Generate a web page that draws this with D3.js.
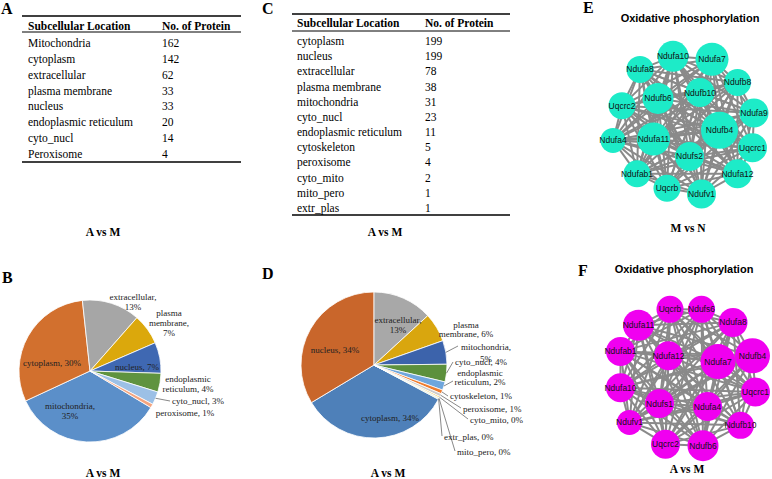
<!DOCTYPE html>
<html>
<head>
<meta charset="utf-8">
<script src="https://cdn.jsdelivr.net/npm/d3@7"></script>
<style>
  body { margin: 0; background: #fff; }
  text { font-family: "Liberation Serif", "Times New Roman", serif; }
  .sans { font-family: "Liberation Sans", Arial, sans-serif; }
</style>
</head>
<body>
<div id="fig"></div>
<script>
const width = 772
const height = 479

// ---- data: table A / pie B
const locA = ["Mitochondria", "cytoplasm", "extracellular", "plasma membrane", "nucleus", "endoplasmic reticulum", "cyto_nucl", "Peroxisome"]
const countA = [162, 142, 62, 33, 33, 20, 14, 4]
const pieNamesB = ["mitochondria", "cytoplasm", "extracellular", "plasma membrane", "nucleus", "endoplasmic reticulum", "cyto_nucl", "peroxisome"]
const pctB = [35, 30, 13, 7, 7, 4, 3, 1]

// ---- data: table C / pie D
const locC = ["cytoplasm", "nucleus", "extracellular", "plasma membrane", "mitochondria", "cyto_nucl", "endoplasmic reticulum", "cytoskeleton", "peroxisome", "cyto_mito", "mito_pero", "extr_plas"]
const countC = [199, 199, 78, 38, 31, 23, 11, 5, 4, 2, 1, 1]
const pctD = [34, 34, 13, 6, 5, 4, 2, 1, 1, 0, 0, 0]

// ---- data: networks (layout units 0-100, size = node weight)
const nodesE = [
  ["Ndufa10", 42, 3, 14], ["Ndufa7", 68, 5, 15], ["Ndufa8", 20, 12, 12], ["Ndufb8", 85, 21, 12],
  ["Ndufb10", 60, 28, 13], ["Ndufb6", 32, 32, 14], ["Uqcrc2", 8, 37, 12], ["Ndufa9", 96, 42, 13],
  ["Ndufb4", 73, 54, 17], ["Ndufa11", 29, 60, 15], ["Ndufa4", 2, 61, 11], ["Uqcrc1", 95, 66, 13],
  ["Ndufs2", 53, 72, 13], ["Ndufab1", 18, 84, 12], ["Ndufa12", 85, 84, 13], ["Uqcrb", 38, 94, 12],
  ["Ndufv1", 61, 98, 13]
]
const nodesF = [
  ["Uqcrb", 40, 3, 12], ["Ndufs6", 61, 3, 12], ["Ndufa8", 82, 12, 13], ["Ndufa11", 19, 14, 14],
  ["Ndufab1", 7, 32, 13], ["Ndufb4", 95, 35, 16], ["Ndufa12", 39, 35, 13], ["Ndufa7", 72, 39, 16],
  ["Ndufa10", 7, 57, 13], ["Uqcrc1", 97, 60, 13], ["Ndufs1", 33, 68, 13], ["Ndufa4", 65, 70, 13],
  ["Ndufv1", 13, 81, 11], ["Ndufb10", 87, 83, 12], ["Uqcrc2", 37, 96, 13], ["Ndufb6", 62, 97, 14]
]

const colorsB = ["#5B8FC9", "#D2702E", "#A6A6A6", "#DBA80C", "#3F68B2", "#5F933F", "#9CC0E6", "#F4A47F"]
const colorsD = ["#4E80B9", "#C9662B", "#A8A8A8", "#D9A60E", "#3C63AB", "#5C903C", "#6FA6DC", "#F07C2C", "#CBCBCB", "#F5D36A", "#8FA9DA", "#A8CF8C"]

const svg = d3.select("#fig").append("svg")
    .attr("width", width)
    .attr("height", height)

function panelLetter(t, x, y) {
    svg.append("text").attr("x", x).attr("y", y)
        .attr("font-size", 16).attr("font-weight", "bold").text(t)
}
function caption(t, x, y) {
    svg.append("text").attr("x", x).attr("y", y).attr("text-anchor", "middle")
        .attr("font-size", 11.5).attr("font-weight", "bold").text(t)
}

// ---------- tables
function drawTable(o) {
    const g = svg.append("g")
    const rowY = d3.scaleLinear().domain([0, o.names.length - 1]).range([o.firstRow, o.lastRow])
    g.append("line").attr("x1", o.x0).attr("x2", o.x1).attr("y1", o.top).attr("y2", o.top)
        .attr("stroke", "#000").attr("stroke-width", 1.6)
    g.append("line").attr("x1", o.x0).attr("x2", o.x1).attr("y1", o.headRule).attr("y2", o.headRule)
        .attr("stroke", "#000").attr("stroke-width", 1)
    g.append("line").attr("x1", o.x0).attr("x2", o.x1).attr("y1", o.bottom).attr("y2", o.bottom)
        .attr("stroke", "#000").attr("stroke-width", 1.6)
    g.append("text").attr("x", o.c1).attr("y", o.head + 4).attr("font-size", 11.5)
        .attr("font-weight", "bold").text("Subcellular Location")
    g.append("text").attr("x", o.c2).attr("y", o.head + 4).attr("font-size", 11.5)
        .attr("font-weight", "bold").text("No. of Protein")
    g.selectAll(".nm").data(o.names).join("text")
        .attr("x", o.c1).attr("y", (d, i) => rowY(i) + 4)
        .attr("font-size", 11.5).text(d => d)
    g.selectAll(".vl").data(o.values).join("text")
        .attr("x", o.c2).attr("y", (d, i) => rowY(i) + 4)
        .attr("font-size", 11.5).text(d => d)
}

drawTable({names: locA, values: countA, x0: 22, x1: 241, top: 16, head: 26, headRule: 32,
    firstRow: 43, lastRow: 154, bottom: 162, c1: 28, c2: 162})
drawTable({names: locC, values: countC, x0: 292, x1: 510, top: 14, head: 23, headRule: 31,
    firstRow: 41, lastRow: 208, bottom: 215, c1: 297, c2: 425})

panelLetter("A", 1, 14)
panelLetter("C", 262, 14)
caption("A vs M", 103, 236)
caption("A vs M", 385, 236)

// ---------- pies
function splitLabel(txt, mode) {
    if (mode === "comma") { const k = txt.indexOf(",") + 1; return [txt.slice(0, k), txt.slice(k + 1)] }
    if (mode === "first") { const k = txt.indexOf(" "); return [txt.slice(0, k), txt.slice(k + 1)] }
    if (mode === "words") return txt.split(" ")
    return [txt]
}

function drawPie(o) {
    const g = svg.append("g").attr("transform", `translate(${o.cx},${o.cy})`)
    const pie = d3.pie().sort(null).value(d => d)
        .startAngle(o.start * Math.PI / 180)
        .endAngle(o.start * Math.PI / 180 + 2 * Math.PI)
    const arcs = pie(o.values)
    const arc = d3.arc().innerRadius(0).outerRadius(o.r)

    g.selectAll("path").data(arcs).join("path")
        .attr("d", arc)
        .attr("fill", (d, i) => o.colors[i])
        .attr("stroke", "#fff").attr("stroke-width", 0.8)

    arcs.forEach((a, i) => {
        const L = o.layout[i]
        const txt = o.names[i] + ", " + o.pct[i] + "%"
        const lines = splitLabel(txt, L.split)
        const t = g.append("text").attr("font-size", L.fs || 9)
            .attr("text-anchor", L.anchor || "middle").attr("fill", "#222")
        lines.forEach((ln, j) => {
            t.append("tspan").attr("x", L.dx).attr("y", L.dy + j * (L.lh || 10) + 3).text(ln)
        })
        if (L.lead) {
            const m = (a.startAngle + a.endAngle) / 2
            const p = [o.r * Math.sin(m), -o.r * Math.cos(m)]
            g.append("polyline")
                .attr("points", [p, L.lead].map(q => q.join(",")).join(" "))
                .attr("fill", "none").attr("stroke", "#555").attr("stroke-width", 0.7)
        }
    })
}

drawPie({cx: 90, cy: 371, r: 71, start: 121, values: countA, names: pieNamesB, pct: pctB, colors: colorsB,
    layout: [
        {dx: -20, dy: 35, split: "comma"},
        {dx: -38, dy: -8},
        {dx: 43, dy: -74, split: "comma"},
        {dx: 79, dy: -58, split: "words"},
        {dx: 47, dy: -4},
        {dx: 98, dy: 8, split: "first"},
        {dx: 82, dy: 30, anchor: "start", lead: [80, 30]},
        {dx: 95, dy: 42}
    ]})

drawPie({cx: 374, cy: 365, r: 73, start: 118, values: countC, names: locC, pct: pctD, colors: colorsD,
    layout: [
        {dx: 16, dy: 53},
        {dx: -39, dy: -15},
        {dx: 24, dy: -45, split: "comma"},
        {dx: 92, dy: -40, split: "first", lh: 9},
        {dx: 112, dy: -18, split: "comma", lh: 12, lead: [84, -19]},
        {dx: 81, dy: -3, anchor: "start", lead: [79, -3]},
        {dx: 106, dy: 8, split: "first", lh: 9, lead: [79, 16]},
        {dx: 76, dy: 31, anchor: "start", lead: [74, 31]},
        {dx: 89, dy: 44, anchor: "start", lead: [87, 43]},
        {dx: 96, dy: 55, anchor: "start", lead: [94, 54]},
        {dx: 83, dy: 87, anchor: "start", lead: [81, 86]},
        {dx: 70, dy: 72, anchor: "start", lead: [68, 71]}
    ]})

panelLetter("B", 2, 283)
panelLetter("D", 262, 279)
caption("A vs M", 103, 477)
caption("A vs M", 388, 477)

// ---------- networks
const nx = d3.scaleLinear().domain([0, 100]).range([610, 760])
const nr = d3.scaleLinear().domain([10, 18]).range([11.5, 19.5])

function drawNet(nodes, y0, fill) {
    const ny = d3.scaleLinear().domain([0, 100]).range([y0, y0 + 145])
    const g = svg.append("g")
    const links = []
    nodes.forEach((a, i) => nodes.slice(i + 1).forEach(b => links.push([a, b])))
    g.selectAll("line").data(links).join("line")
        .attr("x1", d => nx(d[0][1])).attr("y1", d => ny(d[0][2]))
        .attr("x2", d => nx(d[1][1])).attr("y2", d => ny(d[1][2]))
        .attr("stroke", "#8a8a8a").attr("stroke-width", 2)
    g.selectAll("circle").data(nodes).join("circle")
        .attr("cx", d => nx(d[1])).attr("cy", d => ny(d[2])).attr("r", d => nr(d[3]))
        .attr("fill", fill)
    g.selectAll("text").data(nodes).join("text")
        .attr("class", "sans")
        .attr("x", d => nx(d[1])).attr("y", d => ny(d[2]) + 3)
        .attr("text-anchor", "middle").attr("font-size", 8.5).attr("fill", "#111")
        .text(d => d[0])
}

drawNet(nodesE, 52, "#1DEBC8")
drawNet(nodesF, 305, "#F000F0")

svg.append("text").attr("class", "sans").attr("x", 690).attr("y", 22).attr("text-anchor", "middle")
    .attr("font-size", 11).attr("font-weight", "bold").text("Oxidative phosphorylation")
svg.append("text").attr("class", "sans").attr("x", 684).attr("y", 273).attr("text-anchor", "middle")
    .attr("font-size", 11).attr("font-weight", "bold").text("Oxidative phosphorylation")
panelLetter("E", 583, 13)
panelLetter("F", 578, 276)
caption("M vs N", 688, 232)
caption("A vs M", 687, 473)
</script>
</body>
</html>
